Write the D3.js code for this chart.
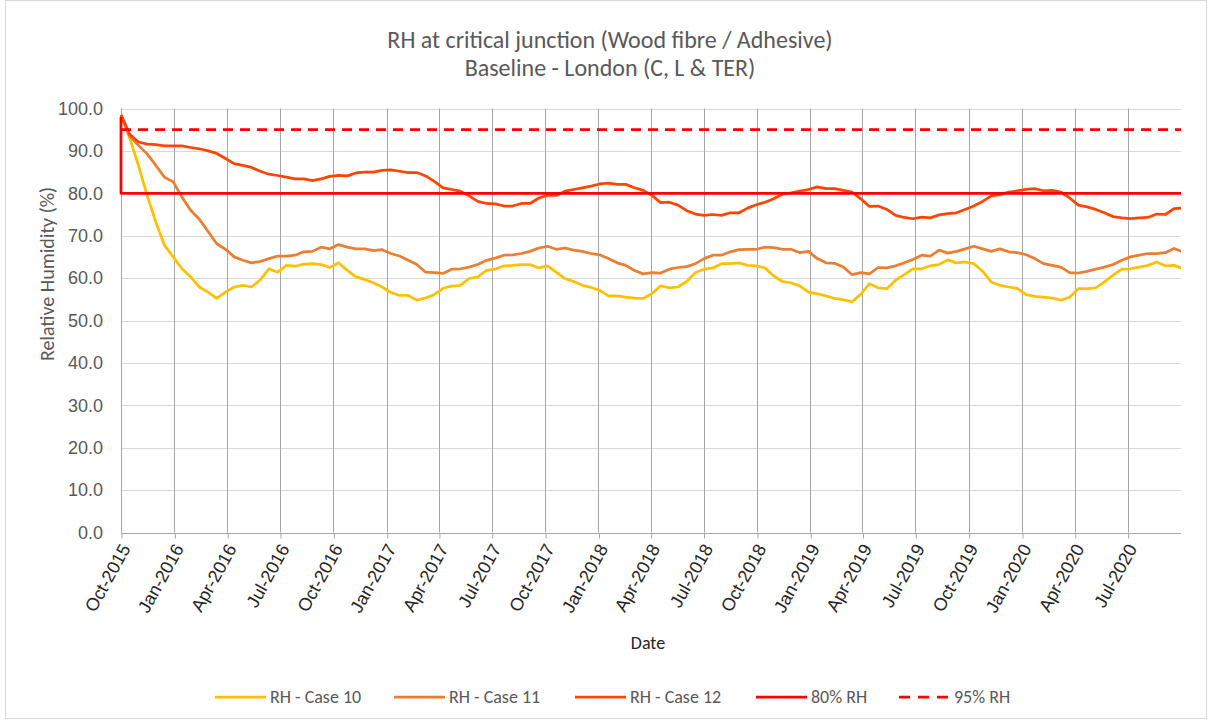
<!DOCTYPE html>
<html>
<head>
<meta charset="utf-8">
<script src="https://cdn.jsdelivr.net/npm/d3@7"></script>
<style>
  html, body { margin: 0; padding: 0; background: #fff; }
  svg { display: block; font-family: Calibri, Carlito, "Open Sans", sans-serif; }
</style>
</head>
<body>
<svg id="chart" width="1212" height="723"></svg>
<script>
// Simulated RH at the wood fibre / adhesive junction, sampled every 15 days from 1 Oct 2015
const startDate = "2015-10-01";
const stepDays = 15;

const case10 = [
  98.5, 93.0, 86.6, 79.5, 73.2, 67.7, 65.0, 62.2, 60.3, 57.9, 56.7, 55.2, 56.7, 57.9, 58.3, 57.9, 59.6, 62.2, 61.4, 63.0,
  62.8, 63.3, 63.4, 63.2, 62.5, 63.6, 61.8, 60.3, 59.7, 58.9, 57.9, 56.6, 55.9, 55.9, 54.8, 55.3, 56.1, 57.6, 58.1, 58.3,
  59.9, 60.3, 61.8, 62.1, 62.9, 63.0, 63.2, 63.2, 62.4, 62.9, 61.4, 59.9, 59.2, 58.3, 57.8, 57.1, 55.8, 55.8, 55.5, 55.3,
  55.2, 56.3, 58.2, 57.7, 57.9, 59.2, 61.3, 62.1, 62.4, 63.4, 63.4, 63.6, 63.0, 62.9, 62.4, 60.5, 59.2, 58.9, 58.1, 56.7,
  56.3, 55.8, 55.2, 54.9, 54.4, 56.2, 58.7, 57.7, 57.5, 59.5, 60.8, 62.2, 62.2, 62.9, 63.2, 64.3, 63.6, 63.8, 63.4, 61.6,
  59.1, 58.3, 57.9, 57.6, 56.1, 55.7, 55.5, 55.3, 54.8, 55.5, 57.5, 57.5, 57.7, 59.1, 60.7, 62.1, 62.2, 62.6, 63.0, 63.8,
  62.9, 63.0, 62.2
];

const case11 = [
  98.5, 93.5, 91.3, 89.3, 86.6, 83.8, 82.7, 79.1, 76.0, 73.9, 71.0, 68.1, 66.8, 65.0, 64.2, 63.6, 63.9, 64.6, 65.2, 65.2,
  65.4, 66.2, 66.3, 67.3, 66.9, 67.9, 67.3, 66.9, 66.9, 66.5, 66.7, 65.8, 65.2, 64.2, 63.2, 61.4, 61.3, 61.1, 62.1, 62.2,
  62.6, 63.2, 64.2, 64.7, 65.4, 65.5, 65.8, 66.3, 67.1, 67.5, 66.8, 67.1, 66.6, 66.3, 65.8, 65.5, 64.6, 63.6, 63.0, 61.8,
  61.0, 61.3, 61.2, 62.1, 62.5, 62.7, 63.4, 64.6, 65.4, 65.4, 66.2, 66.7, 66.8, 66.8, 67.3, 67.2, 66.8, 66.8, 66.0, 66.3,
  64.6, 63.6, 63.5, 62.6, 60.8, 61.3, 61.0, 62.5, 62.4, 62.9, 63.6, 64.4, 65.4, 65.2, 66.6, 65.9, 66.3, 66.9, 67.5, 66.9,
  66.3, 66.9, 66.2, 66.0, 65.5, 64.6, 63.4, 63.0, 62.6, 61.3, 61.2, 61.6, 62.1, 62.6, 63.2, 64.2, 65.0, 65.4, 65.8, 65.8,
  66.0, 67.0, 66.2
];

const case12 = [
  98.5, 93.9, 92.1, 91.6, 91.5, 91.2, 91.2, 91.2, 90.8, 90.5, 90.0, 89.4, 88.2, 87.0, 86.6, 86.1, 85.2, 84.5, 84.2, 83.8,
  83.4, 83.4, 83.0, 83.4, 84.0, 84.2, 84.1, 84.8, 85.0, 85.0, 85.4, 85.5, 85.2, 84.9, 84.9, 84.1, 82.8, 81.3, 80.9, 80.5,
  79.4, 78.1, 77.6, 77.5, 77.0, 77.0, 77.6, 77.6, 78.9, 79.5, 79.5, 80.5, 80.9, 81.3, 81.7, 82.2, 82.4, 82.1, 82.1, 81.3,
  80.7, 79.5, 77.8, 77.9, 77.2, 75.9, 75.1, 74.8, 75.0, 74.8, 75.4, 75.4, 76.5, 77.3, 77.9, 78.7, 79.8, 80.1, 80.5, 80.9,
  81.5, 81.1, 81.1, 80.7, 80.3, 78.7, 76.9, 77.0, 76.2, 74.8, 74.3, 74.0, 74.4, 74.2, 74.9, 75.2, 75.4, 76.2, 77.0, 78.1,
  79.4, 79.7, 80.3, 80.6, 80.9, 81.1, 80.6, 80.7, 80.3, 78.9, 77.2, 76.8, 76.2, 75.4, 74.5, 74.2, 74.0, 74.2, 74.3, 75.1,
  75.0, 76.4, 76.5
];

// Threshold series
const limit80Dates  = ["2015-10-01", "2015-10-01", "2020-10-01"];
const limit80Values = [98, 80, 80];
const limit95Dates  = ["2015-10-01", "2020-10-01"];
const limit95Values = [95, 95];

const seriesNames = ["RH - Case 10", "RH - Case 11", "RH - Case 12", "80% RH", "95% RH"];
const seriesColors = ["#FFC000", "#ED7D31", "#FF4500", "#FF0000", "#FF0000"];

const xTickLabels = [
  "Oct-2015", "Jan-2016", "Apr-2016", "Jul-2016", "Oct-2016", "Jan-2017", "Apr-2017", "Jul-2017",
  "Oct-2017", "Jan-2018", "Apr-2018", "Jul-2018", "Oct-2018", "Jan-2019", "Apr-2019", "Jul-2019",
  "Oct-2019", "Jan-2020", "Apr-2020", "Jul-2020"
];
const yTicks = [0, 10, 20, 30, 40, 50, 60, 70, 80, 90, 100];

const titleLines = ["RH at critical junction (Wood fibre / Adhesive)", "Baseline - London (C, L & TER)"];
const xTitle = "Date";
const yTitle = "Relative Humidity (%)";

// ---- layout ----
const svg = d3.select("#chart");
const plot = { left: 121, right: 1181, top: 108.5, bottom: 532.5 };
const parseISO = d3.timeParse("%Y-%m-%d");
const parseTick = d3.timeParse("%b-%Y");

const x = d3.scaleTime()
  .domain([parseISO("2015-10-01"), parseISO("2020-10-01")])
  .range([plot.left, plot.right]);
const y = d3.scaleLinear().domain([0, 100]).range([plot.bottom, plot.top]);

const start = parseISO(startDate);
const toPoints = vals => vals.map((v, i) => ({ date: d3.timeDay.offset(start, i * stepDays), value: v }));
const pairPoints = (dates, vals) => dates.map((d, i) => ({ date: parseISO(d), value: vals[i] }));

// chart border
svg.append("rect")
  .attr("x", 5.5).attr("y", 0.5).attr("width", 1201).attr("height", 718)
  .attr("fill", "#fff").attr("stroke", "#D9D9D9").attr("stroke-width", 1);

// horizontal gridlines
svg.append("g")
  .selectAll("line")
  .data(yTicks.filter(t => t > 0))
  .join("line")
  .attr("x1", plot.left).attr("x2", plot.right)
  .attr("y1", d => Math.round(y(d)) + 0.5).attr("y2", d => Math.round(y(d)) + 0.5)
  .attr("stroke", "#D9D9D9").attr("stroke-width", 1);

const tickDates = xTickLabels.map(parseTick);

// vertical gridlines
svg.append("g")
  .selectAll("line")
  .data(tickDates)
  .join("line")
  .attr("x1", d => Math.round(x(d)) + 0.5).attr("x2", d => Math.round(x(d)) + 0.5)
  .attr("y1", plot.top).attr("y2", plot.bottom)
  .attr("stroke", "#A6A6A6").attr("stroke-width", 1);

// x axis
const xAxis = d3.axisBottom(x)
  .tickValues(tickDates)
  .tickSize(5)
  .tickFormat((d, i) => xTickLabels[i]);
const gx = svg.append("g")
  .attr("transform", `translate(0,${Math.round(plot.bottom) + 0.5})`)
  .call(xAxis);
gx.select(".domain").attr("stroke", "#A6A6A6").attr("d", `M${plot.left},0H${plot.right}`);
gx.selectAll(".tick line").attr("stroke", "#A6A6A6").attr("transform", "translate(0.5,0)");
gx.selectAll(".tick text")
  .attr("fill", "#262626")
  .attr("font-size", "18px")
  .attr("text-anchor", "end")
  .attr("x", null).attr("y", null).attr("dy", "0.35em")
  .attr("transform", "translate(4,12) rotate(-61)");

// y axis labels
const yAxis = d3.axisLeft(y).tickValues(yTicks).tickSize(0).tickPadding(18)
  .tickFormat(d3.format(".1f"));
const gy = svg.append("g").attr("transform", `translate(${plot.left},0)`).call(yAxis);
gy.select(".domain").remove();
gy.selectAll(".tick text").attr("fill", "#595959").attr("font-size", "18px");

// series
svg.append("clipPath").attr("id", "plotClip")
  .append("rect")
  .attr("x", plot.left - 2).attr("y", plot.top - 10)
  .attr("width", plot.right - plot.left + 2).attr("height", plot.bottom - plot.top + 12);

const line = d3.line().x(d => x(d.date)).y(d => y(d.value));
const seriesData = [
  toPoints(case10),
  toPoints(case11),
  toPoints(case12),
  pairPoints(limit80Dates, limit80Values),
  pairPoints(limit95Dates, limit95Values)
];
const dashes = [null, null, null, null, "10,7"];

const gLines = svg.append("g").attr("clip-path", "url(#plotClip)");
seriesData.forEach((pts, i) => {
  gLines.append("path")
    .datum(pts)
    .attr("d", line)
    .attr("fill", "none")
    .attr("stroke", seriesColors[i])
    .attr("stroke-width", 2.75)
    .attr("stroke-linejoin", "round")
    .attr("stroke-dasharray", dashes[i]);
});

// titles
const title = svg.append("text")
  .attr("text-anchor", "middle").attr("fill", "#595959").attr("font-size", "24px");
title.selectAll("tspan").data(titleLines).join("tspan")
  .attr("x", 610).attr("y", (d, i) => 48 + i * 28)
  .text(d => d);

svg.append("text")
  .attr("x", 648).attr("y", 649)
  .attr("text-anchor", "middle").attr("fill", "#262626").attr("font-size", "18px")
  .text(xTitle);

svg.append("text")
  .attr("transform", "translate(54,274) rotate(-90)")
  .attr("text-anchor", "middle").attr("fill", "#595959").attr("font-size", "20px")
  .text(yTitle);

// legend
const legendX = [215, 394, 575, 756, 899];
const legend = svg.append("g");
seriesNames.forEach((name, i) => {
  const g = legend.append("g").attr("transform", `translate(${legendX[i]},697)`);
  g.append("line")
    .attr("x1", 0).attr("x2", 51).attr("y1", 0).attr("y2", 0)
    .attr("stroke", seriesColors[i]).attr("stroke-width", 2.75)
    .attr("stroke-dasharray", dashes[i] ? "11,8" : null);
  g.append("text")
    .attr("x", 55).attr("y", 0).attr("dy", "0.35em")
    .attr("fill", "#595959").attr("font-size", "18px")
    .text(name);
});
</script>
</body>
</html>
